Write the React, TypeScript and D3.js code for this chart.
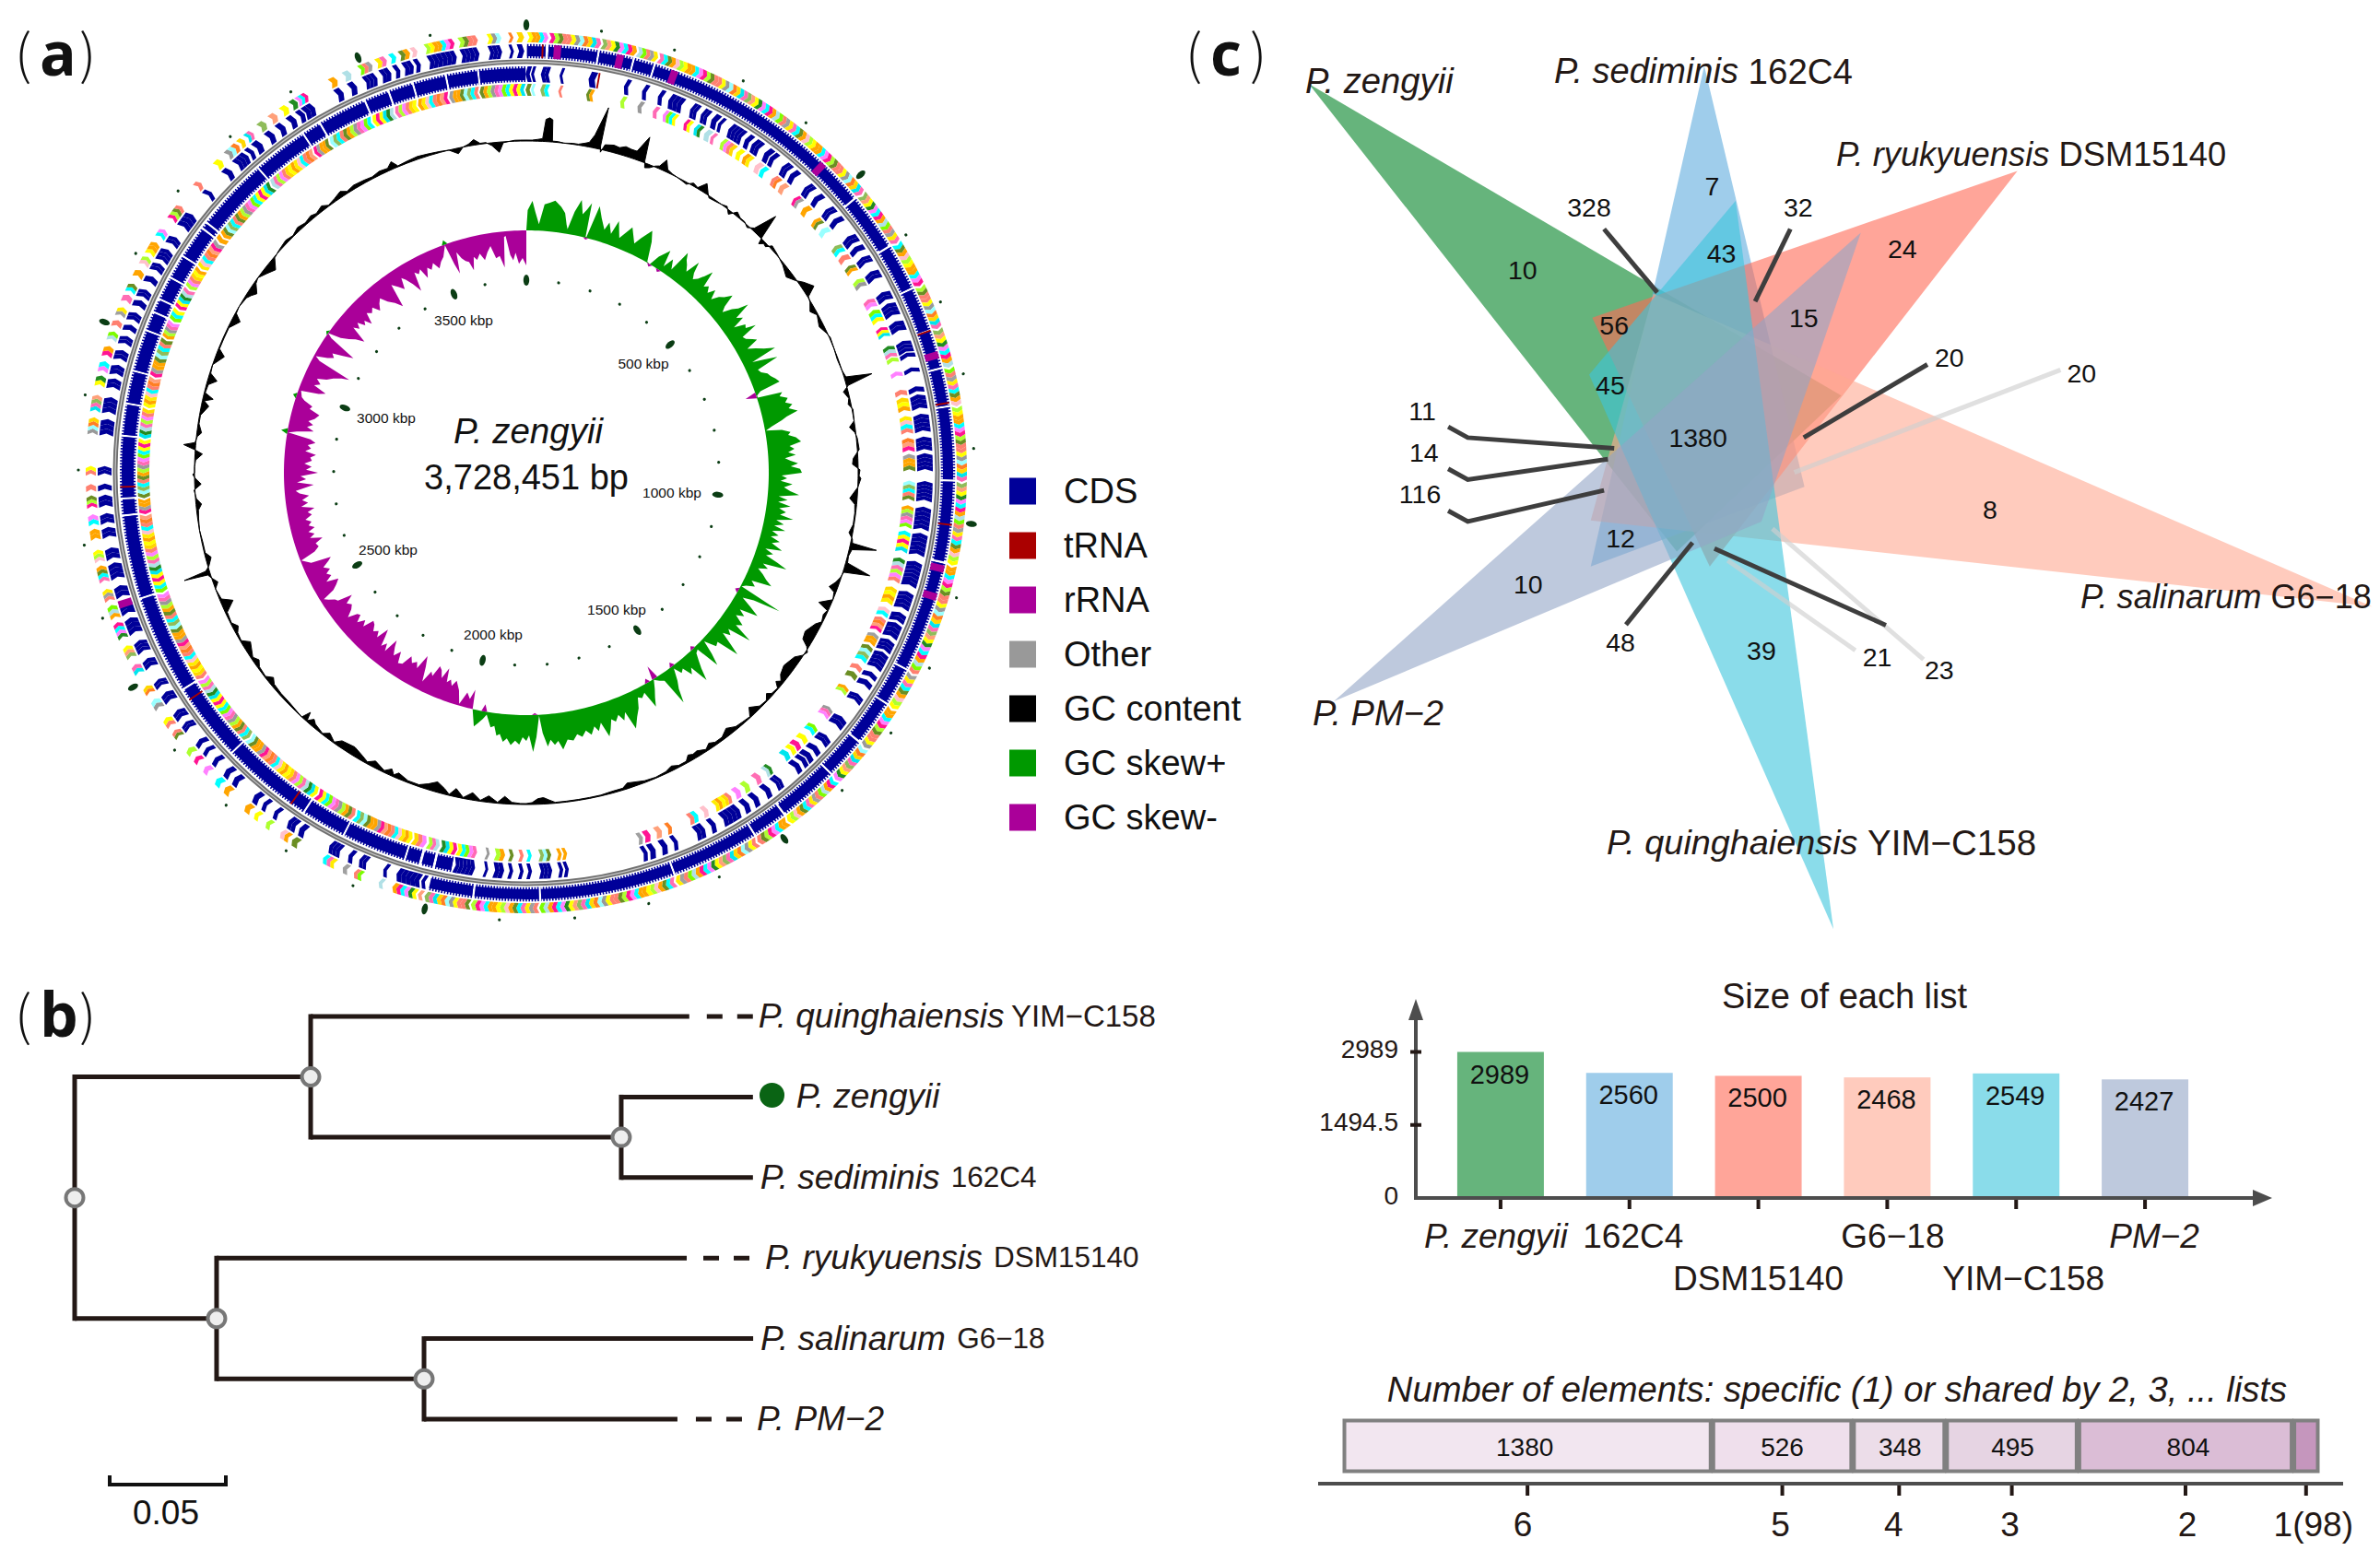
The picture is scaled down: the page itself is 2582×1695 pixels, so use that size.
import React from "react";
import * as d3 from "d3";

const FONT = "'Liberation Sans', Arial, sans-serif";
const INK = "#231815";
const AXIS = "#4d4d4d";

// ---------- (a) genome map data (degrees clockwise from the origin) ----------
const genomeKbp = 3728.451;
const tickKbp = d3.range(0, 3700, 100);
const labelKbp = [500, 1000, 1500, 2000, 2500, 3000, 3500];
const labelOffsets = [[127, -119], [158, 21], [98, 148], [-36, 175], [-150, 83], [-152, -60], [-68, -166]];

const outerDenseArcs = [
  [0.1, 2.6], [3, 9.6], [9.9, 14.4], [14.7, 17.3], [17.6, 50], [50.3, 57.9], [58.2, 64.3], [64.6, 70.4], [70.7, 75.7],
  [76, 80.9], [81.2, 90.9], [91.2, 102], [102.3, 117.2], [117.5, 122.5], [122.8, 128.8], [129.1, 134.5], [134.8, 142.8],
  [143.1, 147.6], [147.9, 159.6], [159.9, 178], [178.3, 187], [187.3, 193.2],
];
const outerSparseArcs = [
  [193.6, 194.1], [194.4, 197.6], [199, 199.5], [202, 203], [204, 204.6], [205.9, 207.5], [211.4, 212.2], [212.8, 214],
  [215.7, 216.3], [217.6, 218.2], [219, 219.8], [222.6, 223.4], [224.2, 225], [226.5, 227.2], [228.4, 229], [229.8, 230.5],
  [232.6, 233.5], [234.4, 235.5], [237.2, 238.4], [239.5, 240.4], [242.5, 243.6], [244.8, 246.3], [247.6, 249.6], [250.4, 252],
  [252.8, 254.2], [255.4, 257.4], [258.1, 259.5], [261.1, 262.3], [263, 264.2], [265.3, 266.7], [267.5, 268.2], [269.6, 270.6],
  [275, 277], [278, 280], [281.4, 282.6], [283.3, 284.5], [285.4, 286.6], [287.6, 288.6], [289.5, 290.2], [291, 292],
  [293, 293.8], [294.4, 295.4], [296.6, 297.4], [298.4, 299.4], [300, 301.6], [302.6, 303.6], [305.4, 307.4], [310.8, 311.4],
  [314.6, 315.4], [316.6, 318.4], [318.8, 319.4], [320, 320.9], [322.2, 323], [324, 324.8], [325.8, 326.6], [327.3, 328],
  [328.2, 329.6], [333.2, 334], [335.2, 336], [337.4, 339], [339.8, 341], [341.7, 342.3], [343, 344.2], [344.6, 345.2],
  [346.5, 350.2], [351, 353.3], [354.8, 356.4], [357.6, 358], [358.7, 359.4],
];
const innerSparseArcs = [
  [0.2, 0.8], [1, 1.4], [2.4, 3.5], [5.1, 5.5], [9.3, 10.2], [14.5, 15.1], [17.2, 17.8], [19.6, 20.2], [21.2, 23.2], [24.6, 25.6],
  [26.3, 27.3], [28, 28.8], [29.1, 29.6], [30.8, 33], [33.6, 34.3], [34.8, 36], [37, 37.8], [38, 38.7], [40.2, 41.2], [41.8, 42.6],
  [44.6, 45.6], [46.6, 47.4], [49, 50], [50.8, 51.6], [54, 55.2], [55.8, 56.6], [57.6, 58.6], [60, 61.2], [63.4, 64.6], [65.2, 67],
  [68, 69.4], [71, 72.6], [72.8, 73.4], [75, 75.6], [77.8, 78.5], [79, 80.9], [81.8, 84.2], [85.1, 86.9], [87.5, 89.8],
  [91.5, 94.2], [95.2, 98.3], [99, 102], [103.1, 106.6], [107.6, 110], [110.8, 112], [112.4, 114.4], [115, 116.6], [117, 119.4],
  [120.3, 121], [121.6, 122.4], [124, 125], [128, 129.4], [131.5, 132.6], [133.6, 134.4], [135, 135.8], [136, 136.7], [137.2, 138],
  [140.6, 141.6], [142.7, 143.5], [144.8, 145.6], [146.4, 147.2], [148, 150.7], [152, 152.7], [153.7, 155], [158, 158.6],
  [159.6, 160.4], [161.4, 162.2], [162.6, 163.2], [174.2, 174.7], [175, 175.5], [176.6, 178.2], [179.5, 180], [180.7, 181.2],
  [182.2, 182.7], [183.5, 184.8], [185.8, 186.2], [187.7, 190.5],
];
const innerDenseArcs = [
  [190.7, 193], [193.4, 195], [195.4, 197.3], [197.6, 206.6], [206.9, 213.1], [213.4, 226.3], [226.6, 237.6], [237.9, 251.8],
  [252.1, 263.8], [264.1, 266.2], [266.5, 275.1], [275.4, 279.7], [280, 284.4], [284.7, 290.4], [290.7, 293.2], [293.5, 295.2],
  [295.5, 298.6], [298.9, 302.1], [302.4, 306.9], [307.2, 307.9], [308.2, 318.5], [318.8, 326.5], [326.8, 329.3], [329.6, 336.4],
  [336.7, 340], [340.3, 343.6], [343.9, 348.4], [348.7, 353], [353.3, 359.9],
];
const outerRRNA = [4.2, 12.7, 20.3, 43.9, 74, 103, 106.9, 252];
const outerTRNA = [2.2, 70.6, 80.6, 97];
const innerTRNA = [10.4, 215.4, 236, 268];
const genePalette = [
  "#ffff00", "#ffa500", "#ffa500", "#00ffff", "#ff80ff", "#ff1493", "#adff2f", "#6b8e23", "#ff8070", "#ff8070", "#ffff00", "#999999",
  "#99ffff", "#ff7f24", "#ffd700", "#00e5ee", "#ff69b4", "#8fbc5a", "#ffa07a", "#ffff00", "#228b22", "#ff80ff", "#00ffff", "#ff1493",
  "#ffa500", "#b0e0e6", "#7cfc00", "#ff8070", "#a0a0a0", "#ffec00", "#ff6eb4", "#00ffff", "#6b8e23", "#ffa500", "#ffc0cb", "#adff2f",
];
const gcContent = [
  [0,1],[1,1],[2,2],[2.8,3],[3.2,24],[3.8,26],[4.3,24],[4.5,1],[5.5,1],[6.5,0],[8,1],[9,1],[10,3],[10.8,5],[11.5,14],[12.7,46],[12.8,4],[13,-3],[13.5,6],[15,8],[16,7],[17,10],[18,9],[19,9],[20.2,28],[20.8,2],[21.2,-5],[22,-3],[22.8,1],[23.5,3],[24.2,12],[25,3],[26,1],[27,0],[28,-1],[29,-2],[30,3],[31,1],[32,10],[33,2],[33.6,-2],[35,-1],[36,0],[37,2],[38,-4],[39,4],[40,1],[41,1],[42,-2],[43,3],[44.2,28],[45,2],[45.4,-6],[46,-2],[46.6,-3],[47.3,3],[49,1],[51,-2],[53,-7],[54.5,-1],[55.5,5],[57,12],[58,1],[59,-1],[60.4,-6],[61.5,-1],[63.5,-5],[65,-1],[66,1],[68,0],[70,-1],[72,0],[73.3,2],[74,30],[74.8,2],[75.7,-5],[77,-1],[78,-3],[79,1],[81,0],[82,-6],[83,-1],[84,1],[86,2],[87.5,-5],[88.5,-6],[89.5,2],
  [90.5,1],[91,3],[92.5,0],[94.5,-8],[95.5,-2],[97,-1],[99,-1],[100.5,-4],[101.5,1],[102.2,2],[102.5,29],[103.3,3],[104.5,1],[105.7,2],[106.7,29],[107.4,1],[108.5,-1],[109.5,-4],[110.6,-9],[111.2,-2],[112.5,0],[113.9,-13],[114.6,-1],[115.5,-3],[116.8,-1],[117.6,-6],[119.6,-12],[121,-10],[121.8,-2],[122.6,2],[123.5,-1],[124.5,-7],[126.8,-11],[128.4,-8],[129.3,-3],[129.9,-7],[130.6,-1],[132,-2],[132.6,-6],[133.5,-1],[135,-2],[136.5,-9],[137.5,-1],[139,-2],[140.5,-3],[142,-8],[143.5,-3],[145,-3],[146,-6],[147,-2],[148.5,-6],[149.4,-5],[150.2,-7],[151,-2],[152.5,-2],[153.7,-5],[155,-2],[157,-1],[159,-2],[162,-6],[163,-2],[165,-2],[167,-1],[169,-1],[171,-1],[173,-1],[175,-1],[176,-4],[177,-7],[178,-6],[179,-2],[180,-1],
  [181,-1],[182.5,-2],[183.8,-8],[185,-1],[186.6,-7],[188,-1],[189.5,-8],[191,-1],[192.5,-9],[193.5,-1],[194.5,-6],[196,-11],[197.5,-6],[199,-2],[201,-2],[203,-6],[203.7,-2],[204.4,-7],[205.5,-2],[207.6,-7],[208.8,-2],[210,-5],[212,-9],[214.5,-7],[215.5,-1],[217,-6],[218,-1],[220,-4],[220.7,-7],[221.5,-1],[222,-10],[222.6,0],[224,-1],[226,-2],[228,-2],[230,-3],[231,-7],[232,-1],[234,-2],[235,-6],[236,-2],[238.5,-9],[239.5,-1],[241,-2],[242,-6],[243,-1],[245,-2],[246.5,-13],[247.5,-2],[249.5,0],[250.5,-5],[251.5,0],[252.2,3],[252.5,29],[252.9,4],[253.6,-1],[255,-6],[256,-1],[258,-1],[260,0],[262,-1],[263.5,-2],[264.5,-6],[265.5,-1],[267,1],[268,-7],[269,-1],[269.7,2],[270,0],
  [271,0],[272.2,-1],[273.3,-8],[274,1],[274.7,13],[275.2,1],[276.3,-1],[277,-5],[278.5,-1],[280,-1],[281.8,-8],[282.6,-2],[283.2,-11],[284,-1],[285.5,-2],[286.5,-10],[287.5,-1],[289,0],[291,-9],[292,-1],[294,-1],[296,-1],[297.8,-9],[298.8,-1],[300,0],[302,-2],[302.8,-5],[303.6,-9],[305,-2],[306,0],[307.5,-5],[309,-10],[310.5,-1],[312,1],[314,3],[315.5,1],[317,4],[318.5,2],[320,4],[321,2],[322.5,5],[323.5,1],[325,3],[326.5,6],[327.5,2],[329,4],[331,3],[332.5,2],[334,4],[335.5,3],[336.5,8],[337.3,1],[339,2],[341,3],[343,2],[345,1],[346.5,0],[348,-6],[349,0],[350,2],[351,6],[352,1],[353,1],[354,-3],[355.2,-11],[356,-1],[357,0],[358,1],[359,1],[360,1],
];
const skewPositive = [
  [0,0],[0.3,22],[1.3,32],[2,20],[2.9,7],[3.9,29],[5,31],[6.1,34],[7.5,28],[8.5,22],[9.2,10],[9.6,5],[10.5,25],[11.5,39],[12.3,24],[13,30],[13.7,38],[14.1,1],[14.3,1],[15.4,37],[16.5,25],[17.8,14],[18.4,23],[19.5,12],[20.2,28],[21.6,11],[23.4,27],[25.2,12],[26,20],[27.5,33],[28.5,22],[29.8,1],[30.6,0],[31.5,12],[33,24],[33.6,6],[34.5,18],[35.5,8],
  [36.3,33],[37,26],[37.7,22],[38.5,16],[39.4,32],[40,20],[40.7,14],[41.5,18],[42.2,25],[42.9,34],[43.6,16],[44.4,20],[45.2,14],[46,22],[46.8,12],[47.6,20],[48.4,24],[49.3,32],[50,18],[50.7,12],[51.5,22],[52.2,28],[52.8,39],[53.6,20],[54.4,26],[55,12],[55.9,24],[56.6,22],[57.2,33],[57.9,14],[58.6,16],[59.4,22],[60,26],[60.7,12],[61.5,20],[62.4,28],[63.3,39],[63.9,10],[64.5,22],[65.2,37],[66,12],[66.8,14],[67.6,20],[68.4,22],[69.3,26],[70.2,29],[70.8,6],[71.5,1],
  [72,1],[72.5,28],[73.2,24],[74,32],[74.8,28],[75.5,35],[76.2,30],[77.1,39],[77.8,26],[78.4,20],[79.3,8],[80,1],[80.5,18],[81.2,27],[81.8,24],[82.5,32],[83.5,37],[84.2,24],[84.9,29],[85.5,22],[86.2,30],[86.8,18],[87.4,24],[88,32],[88.6,24],[89.2,34],[90,36],[90.6,14],[91.2,20],[91.8,13],[92.5,26],[93.2,17],[94,24],[94.7,34],[95.3,12],[96,22],[96.6,12],[97.3,26],[98,14],[98.7,22],[99.4,16],[100,31],[100.7,13],[101.4,22],[102,12],[102.7,25],[103.3,11],[104,19],[104.6,11],[105.3,22],[106,14],[107,27],[107.6,9],[108.3,19],[109,12],[109.7,26],[110.4,38],[111,12],[111.7,19],[112.4,9],[113.2,16],[114.1,22],[114.9,30],[115.6,8],[116.5,14],[117.2,5],[117.8,1],[118.7,50],
  [119.3,20],[120,8],[120.9,20],[121.8,32],[122.6,12],[123.4,20],[124.2,12],[125.2,24],[126,18],[126.9,40],[127.7,14],[128.5,20],[129.2,12],[130,26],[130.7,39],[131.5,14],[132.4,16],[133.5,3],[134.3,18],[135.2,31],[135.9,4],[136.7,6],[137.5,14],[138.2,22],[139,35],[139.8,14],[140.6,20],[141.4,9],[142.2,12],[143,3],[144,16],[144.8,24],[145.6,39],[146.4,8],[147.4,5],[148.4,1],[149.3,10],[150.2,18],[151,27],[151.8,8],[152.8,12],[153.6,9],[154.5,20],[155.6,28],[156.8,39],[157.6,18],[158.4,26],[159.2,18],[160.2,24],[161,20],[161.8,30],[162.5,37],[163.4,20],[164.3,28],[165,22],[166,30],[167,24],[168,30],[169,26],[170,32],[171.2,30],[172.4,40],[173.2,30],[174,34],[174.8,28],[175.5,35],[176.4,20],[177,1],[177.8,24],[178.6,40],[179.4,22],[180,28],[180.8,24],[181.5,32],[182.4,28],[183.3,33],[184.2,26],[185,30],[185.8,22],[186.5,24],[187.2,14],[188,16],[189.3,3],[190,8],[191,14],[191.7,18],[192.8,0],
];
const skewNegative = [
  [192.8,0],[193.2,-21],[194,-10],[195,-16],[196.2,-2],[197.2,-16],[198.5,-25],[199.3,-18],[200,-24],[200.8,-20],[201.5,-35],[202.4,-22],[203.2,-30],[204,-33],[204.8,-20],[205.5,-24],[206.5,-10],[207.4,-26],[208.3,-37],[209.2,-20],[210,-26],[211,-22],[212,-28],[213,-16],[214,-14],[215,-26],[216,-18],[217,-26],[217.7,-33],[218.4,-16],[219.2,-24],[220,-18],[220.7,-28],[221.4,-36],[222.2,-22],[223,-28],[224,-24],[225,-30],[225.9,-32],[226.7,-20],[227.5,-26],[228.5,-18],[229.4,-26],[230.1,-24],[231,-14],[232,-22],[233,-26],[234,-22],[235,-32],[235.8,-16],[236.5,-14],[237.3,-8],[238,-4],[238.7,-18],[239.6,-24],[240.6,-29],[241.4,-16],[242.3,-24],[243.2,-20],[244,-26],[245,-20],[246,-28],[246.7,-32],[247.3,-10],[248.7,-1],[249.6,-18],[250.5,-24],[251.5,-22],[252.4,-31],[253.2,-18],[254,-24],[254.8,-18],[255.6,-26],[256.4,-20],[257.2,-24],[258,-18],[259,-26],[259.8,-22],[260.6,-30],[261.4,-16],[262.2,-24],[263,-18],[264,-26],[264.8,-16],[265.5,-12],[266.2,-24],[266.8,-32],[267.6,-14],[268.3,-24],[269.1,-18],[270,-37],[270.8,-24],[271.6,-30],[272.4,-22],[273.2,-30],[274,-28],[274.8,-34],[275.6,-22],[276.4,-28],[277.2,-24],[278,-32],[278.8,-26],[279.6,-1],[280.2,-10],[281,-28],[281.8,-20],[282.6,-26],[283.3,-20],[284.2,-26],[285.5,-30],[286.4,-18],[287.2,-20],[288,-10],[288.6,-6],[290,-3],[290.8,-22],[291.5,-29],[292.4,-14],[293.2,-20],[294.2,-14],[295,-24],[296,-30],[297,-38],[297.7,-46],[298.4,-8],[299,-2],[300,-14],[300.8,-20],[301.6,-16],[302.6,-28],[303.5,-38],[304.6,-6],[305.2,0],[306,-14],[307,-22],[308,-28],[309,-37],[310,-18],[310.8,-24],[311.6,-18],[312.5,-26],[313.2,-22],[314,-30],[315,-18],[316,-22],[317,-18],[318,-26],[319,-20],[320,-16],[321,-24],[322.3,-30],[323.5,-38],[324.3,-12],[325.4,-18],[326.5,-24],[327.3,-12],[328,-16],[329,-24],[330,-35],[330.8,-14],[331.6,-18],[332.4,-14],[333.2,-26],[334.2,-16],[335,-20],[336,-14],[337,-22],[338,-16],[339,-12],[340.3,-1],[341,-24],[341.6,-35],[342.4,-12],[343.2,-20],[344,-24],[344.8,-26],[345.5,-36],[346.3,-22],[347,-26],[348,-20],[349,-28],[350,-20],[351,-14],[352,-28],[353,-26],[354,-39],[354.6,-6],[355,-5],[355.8,-26],[356.5,-32],[357.2,-24],[358,-36],[359,-30],[360,-38],[360,0],
];
const skewNegativeBlips = [[14.2,-2],[30.6,-3],[33,-3],[71.4,-12],[119,-4],[136.6,-4],[143,-5],[148,-15],[150,-5],[178,-2],[190,-8]];
const skewPositiveBlips = [[279.9,7],[288.6,4],[305.3,3],[340.3,5]];

const legendNames = ["CDS", "tRNA", "rRNA", "Other", "GC content", "GC skew+", "GC skew-"];
const legendColors = ["#000099", "#aa0000", "#aa0099", "#999999", "#000000", "#009900", "#aa0099"];

// ---------- (b) tree data: parent index, branch length ----------
const treeNames = ["root", "u", "P. quinghaiensis|YIM−C158", "v", "P. zengyii|", "P. sediminis|162C4", "w", "P. ryukyuensis|DSM15140", "x", "P. salinarum|G6−18", "P. PM−2|"];
const treeParents = [-1, 0, 1, 1, 3, 3, 0, 6, 6, 8, 8];
const treeLengths = [0, 0.1016, 0.163, 0.1337, 0.0567, 0.0567, 0.0611, 0.2024, 0.0893, 0.1417, 0.1091];
const treeDashed = [0, 0, 19, 0, 0, 0, 0, 18, 0, 0, 20];
const treeLabelGap = [0, 0, 75, 0, 47, 8, 0, 85, 0, 8, 86];

// ---------- (c) venn + bars ----------
const listColors = ["rgb(0,130,37)", "rgb(95,172,222)", "rgb(255,105,85)", "rgb(255,168,145)", "rgb(60,197,220)", "rgb(147,165,198)"];
const vennTriangles = [
  [[200, 140], [880, 660], [670, 920]],
  [[705, 110], [833, 812], [560, 945]],
  [[1105, 285], [562, 530], [712, 945]],
  [[1558, 1012], [640, 490], [560, 868]],
  [[870, 1550], [558, 625], [745, 335]],
  [[232, 1170], [905, 388], [778, 870]],
];
const vennCounts = [
  ["7", 715, 310], ["43", 727, 422], ["10", 473, 450], ["24", 958, 415], ["15", 832, 530], ["56", 590, 542], ["45", 585, 642],
  ["1380", 697, 730], ["12", 598, 897], ["8", 1070, 850], ["10", 480, 974], ["39", 778, 1085], ["328", 558, 346], ["32", 825, 346],
  ["20", 1018, 597], ["20", 1187, 623], ["11", 345, 685], ["14", 347, 755], ["116", 342, 824], ["48", 598, 1072], ["21", 926, 1096], ["23", 1005, 1117],
];
const vennLeadersDark = [
  [[577, 382], [645, 488]], [[815, 382], [770, 503]], [[990, 608], [832, 730]],
  [[378, 712], [403, 730], [590, 748]], [[378, 782], [403, 800], [582, 766]], [[378, 852], [403, 870], [577, 818]],
  [[605, 1042], [690, 905]], [[937, 1043], [718, 915]],
];
const vennLeadersLight = [[[1160, 617], [820, 788]], [[985, 1100], [792, 882]], [[898, 1085], [735, 935]]];
const vennNames: any[] = [
  ["P. zengyii", "", 1416, 87, 38.2, 38], ["P. sediminis", "162C4", 1686, 77, 38, 38.5], ["P. ryukyuensis", "DSM15140", 1992, 167, 36.3, 36.3],
  ["P. salinarum", "G6−18", 2257, 647, 36.2, 36], ["P. PM−2", "", 1424, 774, 38, 38], ["P. quinghaiensis", "YIM−C158", 1743, 914, 37.8, 38.5],
];

const barNames = ["P. zengyii", "162C4", "DSM15140", "G6−18", "YIM−C158", "PM−2"];
const barValues = [2989, 2560, 2500, 2468, 2549, 2427];
const barItalic = [true, false, false, false, false, true];
const barNameRow = [0, 0, 1, 0, 1, 0];
const barNameShift = [-5, 4, 0, 6, 8, 10];
const barAxisTicks = [2989, 1494.5, 0];

const sharedLabels = ["6", "5", "4", "3", "2", "1(98)"];
const sharedValues = [1380, 526, 348, 495, 804, 98];
const sharedFills = ["#f2e6f0", "#efdfec", "#ecdde9", "#e6d4e3", "#dbbdd6", "#c596bd"];
const sharedLabelShift = [-5, -2, -6, -2, 2, 8];
const sharedValueShift = [-3, 0, 1, 1, 3, 0];

// ---------- helpers ----------
const CX = 571, CY = 513;
const rad = d3.scaleLinear().domain([0, 360]).range([0, 2 * Math.PI]);
const kbpToAngle = d3.scaleLinear().domain([0, genomeKbp]).range([0, 2 * Math.PI]);
const polar = (a: number, r: number) => [r * Math.sin(rad(a)), -r * Math.cos(rad(a))];

function chevron(a0: number, a1: number, r0: number, r1: number, dir: number) {
  const rm = (r0 + r1) / 2, t = 0.32 * dir;
  const [tail, shoulder] = dir > 0 ? [a0, a1] : [a1, a0];
  const pts = [polar(tail, r0), polar(shoulder, r0), polar(shoulder + t, rm), polar(shoulder, r1), polar(tail, r1), polar(tail + t, rm)];
  return "M" + pts.map((p) => p[0].toFixed(1) + "," + p[1].toFixed(1)).join("L") + "Z";
}
function chevrons(arcs: number[][], r0: number, r1: number, dir: number, step: number) {
  const out: { d: string; i: number }[] = [];
  let i = 0;
  arcs.forEach(([a, b]) => {
    const n = Math.max(1, Math.round((b - a) / step));
    const w = (b - a) / n;
    d3.range(n).forEach((k) => {
      const s = a + k * w;
      out.push({ d: chevron(s, s + w, r0, r1, dir), i: i++ });
    });
  });
  return out;
}
const arcBand = d3.arc<any>();
function ring(a: number, b: number, r0: number, r1: number) {
  return arcBand({ innerRadius: r0, outerRadius: r1, startAngle: rad(a), endAngle: rad(b) }) as string;
}
function centerline(a: number, b: number, r: number) {
  const p = d3.path();
  p.arc(0, 0, r, rad(a) - Math.PI / 2, rad(b) - Math.PI / 2);
  return p.toString();
}
function radialArea(r0: number, rows: number[][]) {
  const g = d3.areaRadial<number[]>().angle((d) => rad(d[0])).innerRadius(r0).outerRadius((d) => r0 + d[1]);
  return g(rows) as string;
}
const blip = ([a, h]: number[]) => [[a - 0.7, 0], [a, h], [a + 0.7, 0]];

function Species({ name, suffix, x, y, size = 37, sub = 31, fill = INK, gap = 0.33 }: any) {
  return (
    <text x={x} y={y} fontFamily={FONT} fontSize={size} fill={fill} dominantBaseline="central">
      <tspan fontStyle="italic">{name}</tspan>
      {suffix ? <tspan fontSize={sub} dx={size * gap}>{suffix}</tspan> : null}
    </text>
  );
}
function PanelTag({ x, y, letter }: { x: number; y: number; letter: string }) {
  const cjk = "'Noto Sans CJK SC', sans-serif";
  return (
    <g fill="#111">
      <text x={x} y={y} fontFamily={cjk} fontSize={58} fontWeight={300} dominantBaseline="central">(</text>
      <text x={x + 27} y={y + 1} fontFamily="'Open Sans', sans-serif" fontSize={66} fontWeight={700} dominantBaseline="central">{letter}</text>
      <text x={x + 70} y={y} fontFamily={cjk} fontSize={58} fontWeight={300} dominantBaseline="central">)</text>
    </g>
  );
}

function GenomePanel() {
  const outerColor = chevrons([...outerDenseArcs, ...outerSparseArcs], 467, 478, 1, 0.55);
  const innerColor = chevrons([...innerSparseArcs, ...innerDenseArcs], 409, 422, -1, 0.55);
  const outerBlue = chevrons(outerSparseArcs, 450, 465, 1, 0.6);
  const innerBlue = chevrons(innerSparseArcs, 424, 441, -1, 0.6);
  return (
    <g transform={`translate(${CX},${CY})`}>
      {outerColor.map((c) => <path key={c.i} d={c.d} fill={genePalette[c.i % genePalette.length]} />)}
      {innerColor.map((c) => <path key={c.i} d={c.d} fill={genePalette[(c.i * 5 + 7) % genePalette.length]} />)}
      {outerBlue.map((c) => <path key={c.i} d={c.d} fill="#000099" />)}
      {innerBlue.map((c) => <path key={c.i} d={c.d} fill="#000099" />)}
      {outerDenseArcs.map(([a, b], i) => (
        <g key={i}>
          <path d={ring(a, b, 452, 463)} fill="#000099" />
          <path d={centerline(a, b, 457.5)} fill="none" stroke="#000099" strokeWidth={15.5} strokeDasharray="1.6 1.6" />
        </g>
      ))}
      {innerDenseArcs.map(([a, b], i) => (
        <g key={i}>
          <path d={ring(a, b, 426, 439)} fill="#000099" />
          <path d={centerline(a, b, 432.5)} fill="none" stroke="#000099" strokeWidth={17} strokeDasharray="1.6 1.6" />
        </g>
      ))}
      {outerRRNA.map((a) => <path key={a} d={ring(a - 0.5, a + 0.5, 450, 465)} fill="#aa0099" />)}
      {outerTRNA.map((a) => <path key={a} d={ring(a - 0.12, a + 0.12, 450, 465)} fill="#aa0000" />)}
      {innerTRNA.map((a) => <path key={a} d={ring(a - 0.12, a + 0.12, 424, 441)} fill="#aa0000" />)}
      <circle r={446} fill="none" stroke="#707070" strokeWidth={5} />
      <circle r={446} fill="none" stroke="#c4c4c4" strokeWidth={1.3} />
      <path d={radialArea(360, gcContent)} fill="#000" stroke="#000" strokeWidth={1} />
      <path d={radialArea(263, skewPositive)} fill="#009900" />
      <path d={radialArea(263, skewNegative)} fill="#aa0099" />
      {skewNegativeBlips.map((b, i) => <path key={i} d={radialArea(263, blip(b))} fill="#aa0099" />)}
      {skewPositiveBlips.map((b, i) => <path key={i} d={radialArea(263, blip(b))} fill="#009900" />)}
      {tickKbp.map((k) => {
        const big = k % 500 === 0;
        const a = (kbpToAngle(k) * 180) / Math.PI;
        return [209, 486].map((r) => (
          <ellipse key={k + "-" + r} rx={big ? 3.2 : 1.6} ry={big ? 6 : 1.6} fill="#0b3d14"
            transform={`rotate(${a}) translate(0,${-r})`} />
        ));
      })}
      {labelKbp.map((k, i) => (
        <text key={k} x={labelOffsets[i][0]} y={labelOffsets[i][1]} textAnchor="middle" dominantBaseline="central"
          fontFamily={FONT} fontSize={15.5} fill="#111">{k} kbp</text>
      ))}
      <text x={2} y={-46} textAnchor="middle" dominantBaseline="central" fontFamily={FONT} fontStyle="italic" fontSize={38.5} fill="#111">P. zengyii</text>
      <text x={0} y={5} textAnchor="middle" dominantBaseline="central" fontFamily={FONT} fontSize={38} fill="#111">3,728,451 bp</text>
    </g>
  );
}

function Legend() {
  const y = d3.scalePoint().domain(legendNames).range([533, 887]);
  return (
    <g>
      {legendNames.map((n, i) => (
        <g key={n}>
          <rect x={1095} y={(y(n) as number) - 14.5} width={29} height={29} fill={legendColors[i]} />
          <text x={1154} y={y(n)} dominantBaseline="central" fontFamily={FONT} fontSize={38} fill="#111">{n}</text>
        </g>
      ))}
    </g>
  );
}

function TreePanel() {
  const rows = treeNames.map((n, i) => ({ id: String(i), parent: treeParents[i] < 0 ? null : String(treeParents[i]) }));
  const root = d3.stratify<any>().id((d) => d.id).parentId((d) => d.parent)(rows);
  const xS = d3.scaleLinear().domain([0, 0.05]).range([81, 207]);
  const leafY = d3.scaleLinear().domain([0, 5]).range([1103, 1540]);
  let leaf = 0;
  const pos: any = {};
  const walk = (n: any, d: number) => {
    const i = +n.id, dist = d + treeLengths[i];
    (n.children || []).forEach((c: any) => walk(c, dist));
    const y = n.children ? d3.mean(n.children, (c: any) => pos[c.id].y) : leafY(leaf++);
    pos[n.id] = { x: xS(dist), y };
  };
  walk(root, 0);
  const line = d3.line();
  return (
    <g>
      <g fill="none" stroke={INK} strokeWidth={5}>
        {root.descendants().filter((n) => n.children).map((n) => {
          const p = pos[n.id];
          const ch = n.children!.map((c) => pos[c.id]);
          return (
            <g key={n.id}>
              <path d={line([[p.x, ch[0].y - 2.5], [p.x, ch[1].y + 2.5]]) as string} />
              {ch.map((c, i) => <path key={i} d={line([[p.x, c.y], [c.x, c.y]]) as string} />)}
            </g>
          );
        })}
        {root.leaves().map((n) => {
          const g = treeDashed[+n.id];
          const p = pos[n.id];
          return g ? <path key={n.id} d={line([[p.x + g, p.y], [p.x + g + 50, p.y]]) as string} strokeDasharray="17 16" /> : null;
        })}
      </g>
      {root.descendants().filter((n) => n.children).map((n) => (
        <circle key={n.id} cx={pos[n.id].x} cy={pos[n.id].y} r={9.5} fill="#eeeeee" stroke="#777" strokeWidth={4} />
      ))}
      {root.leaves().map((n) => {
        const [name, suffix] = treeNames[+n.id].split("|");
        const p = pos[n.id];
        const yim = suffix.startsWith("YIM");
        return <Species key={n.id} name={name} suffix={suffix} x={p.x + treeLabelGap[+n.id]} y={p.y - 1} sub={yim ? 33 : 31.5} gap={yim ? 0.2 : 0.33} />;
      })}
      <circle cx={837.5} cy={pos["4"].y - 2} r={13.5} fill="#0a6414" />
      <path d={line([[119, 1601], [119, 1611], [245, 1611], [245, 1601]]) as string} fill="none" stroke="#111" strokeWidth={4} />
      <text x={180} y={1641} textAnchor="middle" dominantBaseline="central" fontFamily={FONT} fontSize={37} fill="#111">0.05</text>
    </g>
  );
}

function VennPanel() {
  const sx = d3.scaleLinear().domain([0, 1568]).range([1250, 2582]);
  const sy = d3.scaleLinear().domain([0, 1568]).range([0, 1020]);
  const line = d3.line<number[]>().x((d) => sx(d[0])).y((d) => sy(d[1]));
  return (
    <g>
      {vennTriangles.map((t, i) => <path key={i} d={(line(t) as string) + "Z"} fill={listColors[i]} fillOpacity={0.6} />)}
      {vennLeadersLight.map((l, i) => <path key={i} d={line(l) as string} fill="none" stroke="#cfcfcf" strokeOpacity={0.65} strokeWidth={5} />)}
      {vennLeadersDark.map((l, i) => <path key={i} d={line(l) as string} fill="none" stroke="#3e3e3e" strokeWidth={5} />)}
      {vennCounts.map(([t, x, y], i) => (
        <text key={i} x={sx(x as number)} y={sy(y as number)} textAnchor="middle" dominantBaseline="central" fontFamily={FONT} fontSize={28.5} fill="#111">{t}</text>
      ))}
      {vennNames.map(([n, s, x, y, a, b], i) => <Species key={i} name={n} suffix={s} x={x} y={y} size={a} sub={b} gap={0.28} />)}
    </g>
  );
}

function BarPanel() {
  const x = d3.scaleBand().domain(barNames).range([1558, 2397]).paddingInner(0.328).paddingOuter(0.164);
  const y = d3.scaleLinear().domain([0, 2989]).range([1300, 1141.5]);
  const mid = (n: string) => (x(n) as number) + x.bandwidth() / 2;
  return (
    <g fontFamily={FONT}>
      <text x={2001} y={1081} textAnchor="middle" dominantBaseline="central" fontSize={38} fill={INK}>Size of each list</text>
      {barNames.map((n, i) => (
        <g key={n}>
          <rect x={x(n)} y={y(barValues[i])} width={x.bandwidth()} height={y(0) - y(barValues[i])} fill={listColors[i]} fillOpacity={0.6} />
          <text x={mid(n) - 1} y={y(barValues[i]) + 24} textAnchor="middle" dominantBaseline="central" fontSize={29} fill="#111">{barValues[i]}</text>
          <line x1={mid(n)} x2={mid(n)} y1={1300} y2={1312} stroke={INK} strokeWidth={4} />
          <text x={mid(n) + barNameShift[i]} y={barNameRow[i] ? 1387 : 1341} textAnchor="middle" dominantBaseline="central" fontSize={37}
            fontStyle={barItalic[i] ? "italic" : "normal"} fill={INK}>{n}</text>
        </g>
      ))}
      <line x1={1536} x2={1536} y1={1100} y2={1302} stroke={AXIS} strokeWidth={4} />
      <path d="M1536,1084L1544,1107L1528,1107Z" fill={AXIS} />
      <line x1={1534} x2={2450} y1={1300} y2={1300} stroke={AXIS} strokeWidth={4} />
      <path d="M2465,1300L2444,1291L2444,1309Z" fill={AXIS} />
      {barAxisTicks.map((t) => (
        <g key={t}>
          {t > 0 ? <line x1={1530} x2={1542} y1={y(t)} y2={y(t)} stroke={INK} strokeWidth={4} /> : null}
          <text x={1517} y={y(t) - 3} textAnchor="end" dominantBaseline="central" fontSize={28} fill={INK}>{t}</text>
        </g>
      ))}
    </g>
  );
}

function SharedPanel() {
  const total = d3.sum(sharedValues);
  const x = d3.scaleLinear().domain([0, total]).range([1457, 2516]);
  const cum = d3.cumsum(sharedValues);
  return (
    <g fontFamily={FONT}>
      <text x={1993} y={1507} textAnchor="middle" dominantBaseline="central" fontSize={38.2} fontStyle="italic" fill={INK}>
        Number of elements: specific (1) or shared by 2, 3, ... lists
      </text>
      {sharedValues.map((v, i) => {
        const a = x(cum[i] - v), b = x(cum[i]), m = (a + b) / 2;
        return (
          <g key={i}>
            <rect x={a + 1.5} y={1541.5} width={b - a - 3} height={55} fill={sharedFills[i]} stroke="#808080" strokeWidth={4} />
            {i < 5 ? <text x={m + sharedValueShift[i]} y={1570} textAnchor="middle" dominantBaseline="central" fontSize={28} fill="#111">{v}</text> : null}
            <line x1={m} x2={m} y1={1610} y2={1623} stroke={INK} strokeWidth={4} />
            <text x={m + sharedLabelShift[i]} y={1654} textAnchor="middle" dominantBaseline="central" fontSize={37} fill={INK}>{sharedLabels[i]}</text>
          </g>
        );
      })}
      <line x1={1430} x2={2542} y1={1610} y2={1610} stroke={AXIS} strokeWidth={4} />
    </g>
  );
}

export default function App() {
  return (
    <svg width={2582} height={1695} viewBox="0 0 2582 1695" style={{ position: "absolute", left: 0, top: 0, display: "block", background: "#fff" }}>
      <GenomePanel />
      <Legend />
      <TreePanel />
      <VennPanel />
      <BarPanel />
      <SharedPanel />
      <PanelTag x={16} y={55} letter="a" />
      <PanelTag x={16} y={1098} letter="b" />
      <PanelTag x={1286} y={55} letter="c" />
    </svg>
  );
}
